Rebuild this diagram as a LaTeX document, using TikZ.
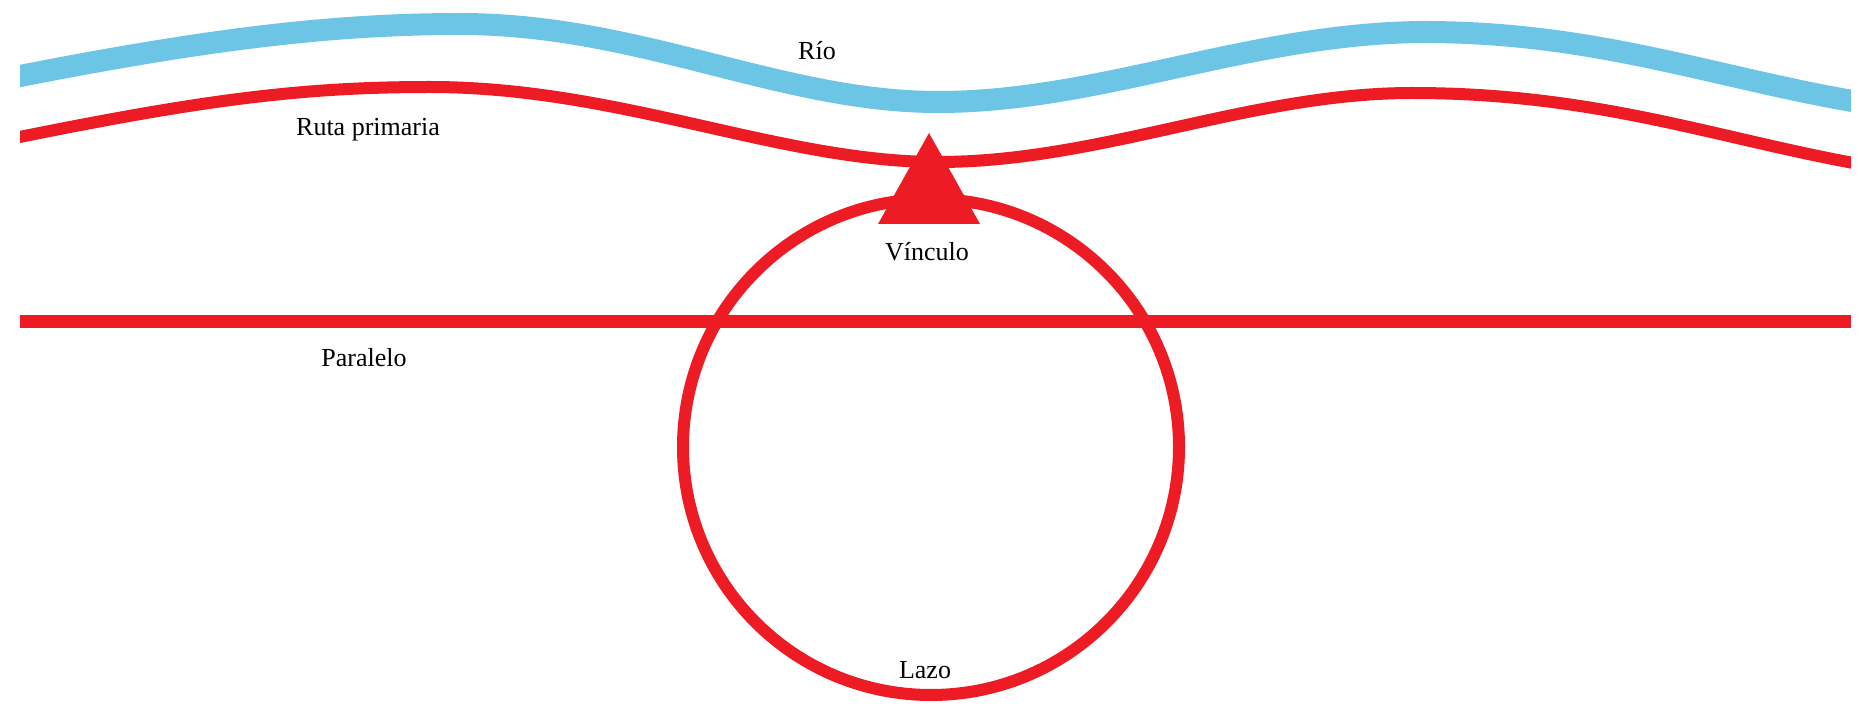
\documentclass[tikz,border=0pt]{standalone}
\usepackage{fontspec}
\setmainfont{Liberation Serif}
\definecolor{rio}{HTML}{6CC5E5}
\definecolor{ruta}{HTML}{ED1C24}
\tikzset{
  x=1pt,y=-1pt,
  riverline/.style={draw=rio,line width=22pt},
  redline/.style={draw=ruta,line width=12pt},
  lbl/.style={font=\fontsize{26}{30}\selectfont,text=black,inner sep=0pt},
}
\begin{document}
\begin{tikzpicture}
\useasboundingbox[fill=white] (0,0) rectangle (1861,708);
\begin{scope}
\clip (20,0) rectangle (1851,708);
\draw[riverline] (0,80) .. controls (200,40) and (330,24) .. (460,24)
  .. controls (640,24) and (780,102) .. (938,102)
  .. controls (1100,102) and (1250,33) .. (1424,32)
  .. controls (1600,32) and (1720,80) .. (1870,104);
\draw[redline] (0,141) .. controls (200,100) and (300,87) .. (430,87)
  .. controls (620,87) and (780,162) .. (938,162)
  .. controls (1100,162) and (1250,93) .. (1412,93)
  .. controls (1600,93) and (1720,140) .. (1870,166);
\end{scope}
\coordinate (pl) at (20,322);
\coordinate (pr) at (1851,322);
\draw[redline,line width=13pt] (pl) -- (pr);
\coordinate (c) at (931,447);
\draw[redline] (c) circle[radius=248];
\fill[ruta] (929,133) -- (980,224) -- (878,224) -- cycle;
\node[lbl] (rio) at (817,51) {Río};
\node[lbl] (rp) at (368,130) {Ruta primaria};
\node[lbl] (vin) at (927,252) {Vínculo};
\node[lbl] (par) at (364,358) {Paralelo};
\node[lbl] (lazo) at (925,670) {Lazo};
\end{tikzpicture}
\end{document}
